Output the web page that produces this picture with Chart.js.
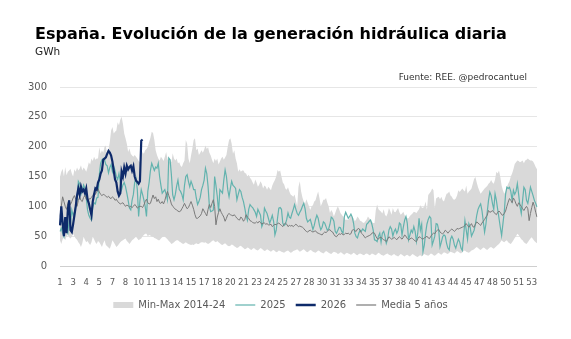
<!DOCTYPE html>
<html>
<head>
<meta charset="utf-8">
<script src="https://cdn.jsdelivr.net/npm/chart.js@4.4.1/dist/chart.umd.min.js"></script>
<style>
  body { margin: 0; background: #fff; }
  #wrap { position: relative; width: 571px; height: 339px; }
  #title { position: absolute; left: 35px; top: 24px; font: bold 16px "DejaVu Sans"; color: #000; white-space: nowrap; }
  #sub { position: absolute; left: 35px; top: 45px; font: 10.5px "DejaVu Sans"; color: #222; }
  #src { position: absolute; right: 44px; top: 72px; font: 9px "DejaVu Sans"; color: #333; }
  canvas { position: absolute; left: 0; top: 0; }
</style>
</head>
<body>
<div id="wrap">
  <canvas id="chart" width="571" height="339"></canvas>
  <div id="title">España. Evolución de la generación hidráulica diaria</div>
  <div id="sub">GWh</div>
  <div id="src">Fuente: REE. @pedrocantuel</div>
</div>
<script>
// week number for each day of the year (tick labels)
const days = Array.from({ length: 365 }, (_, i) => Math.ceil((i + 5) / 7));

const maxBand = [
  149,158,163,150,166,152,158,160,163,155, 150,162,158,165,160,163,169,160,165,162,
  158,165,174,170,180,176,183,178,180,180, 199,188,194,190,200,202,183,195,208,227,
  233,222,225,227,241,236,245,250,239,222, 214,205,191,197,188,185,183,186,183,180,
  176,174,183,191,188,194,196,200,208,215, 225,223,211,194,186,180,177,183,180,176,
  183,191,180,172,178,174,189,180,177,180, 172,174,168,166,172,177,211,205,180,172,
  185,197,211,214,194,197,186,190,194,190, 195,202,196,199,190,185,178,172,180,176,
  180,170,175,180,183,178,182,186,200,211, 214,205,188,194,180,172,158,162,158,160,
  160,156,155,150,153,148,145,140,136,145, 140,133,136,142,138,130,135,133,128,133,
  130,127,135,140,144,150,161,158,160,150, 140,137,130,128,132,125,120,118,116,120,
  110,100,133,142,125,115,108,104,112,106, 100,94,100,102,108,110,118,125,114,100,
  105,111,111,114,106,100,89,94,90,83, 89,95,100,95,89,86,83,80,77,78,
  77,80,86,82,80,75,78,83,80,76, 75,73,72,75,78,83,80,77,74,72,
  72,94,103,95,93,91,88,95,86,83, 88,97,92,86,97,91,90,94,97,90,
  86,88,91,85,82,80,80,84,86,88, 91,90,89,92,95,102,98,97,100,108,
  94,119,122,125,130,127,97,113,115,116, 112,116,110,108,115,121,122,125,118,116,
  112,111,113,118,127,124,127,130,127,125, 135,121,125,127,130,138,146,149,140,132,
  126,121,124,127,130,132,134,138,140,144, 140,138,145,158,155,160,149,135,127,121,
  125,132,138,142,150,155,162,171,174,177, 176,174,175,177,172,177,178,180,178,177,
  177,175,171,166,162
];

const minBand = [
  43,37,45,49,43,50,54,48,46,49, 54,50,46,44,40,37,32,38,49,44,
  40,42,38,35,40,49,45,40,37,42, 40,36,32,38,43,35,33,31,29,35,
  43,40,36,32,34,37,40,42,43,45, 46,42,40,37,40,43,45,47,49,46,
  43,45,46,50,52,54,54,50,52,51, 49,49,47,46,45,43,43,46,48,49,
  49,47,45,42,40,37,38,40,42,43, 43,41,40,38,37,38,40,38,37,36,
  35,36,35,37,38,37,37,39,40,40, 39,40,38,37,38,40,42,43,41,40,
  42,40,38,36,35,37,38,36,34,33, 34,36,35,33,32,30,31,33,34,32,
  30,28,29,31,30,28,27,29,30,28, 27,26,28,30,29,27,25,26,28,27,
  25,24,26,27,25,23,24,26,25,24, 23,22,24,25,26,24,22,23,25,26,
  27,28,26,24,25,27,28,26,24,23, 25,27,26,24,23,22,24,26,25,23,
  22,21,23,25,24,22,21,20,22,24, 23,22,20,21,23,22,20,19,21,22,
  21,20,19,20,22,21,19,18,20,21, 20,19,18,20,21,20,18,19,21,20,
  19,18,20,22,21,19,18,17,19,20, 21,19,18,17,19,20,18,17,16,18,
  20,19,17,16,18,19,17,16,18,20, 19,17,16,15,17,18,16,18,20,19,
  18,17,19,21,20,18,17,19,21,22, 20,19,21,23,22,21,20,22,24,23,
  22,21,23,25,24,22,21,23,25,26, 24,23,22,24,26,27,28,30,32,30,
  28,27,29,31,30,28,27,29,31,32, 30,29,31,33,35,37,40,43,41,40,
  42,43,40,38,37,40,43,47,50,54, 52,48,45,43,40,38,37,40,43,46,
  48,45,42,40,38
];

const gen2025 = [
  58,63,55,49,70,62,55,77,70,94, 85,90,100,111,142,138,120,128,136,130,
  115,94,85,80,77,98,106,104,114,115, 153,172,178,180,178,170,168,156,165,170,
  158,167,160,150,145,155,141,128,136,140, 133,122,110,97,94,110,120,140,147,128,
  83,110,128,120,111,100,83,125,140,160, 172,166,160,166,164,172,150,135,122,125,
  128,120,111,181,178,153,119,111,120,134, 144,128,125,120,111,135,150,153,142,133,
  142,136,128,128,114,103,108,115,128,135, 144,164,155,133,100,91,92,94,150,135,
  117,91,128,125,122,144,161,150,128,116, 130,142,135,133,130,111,120,128,125,115,
  108,97,85,77,95,103,100,98,94,90, 83,95,90,85,66,72,97,92,88,80,
  72,78,85,75,52,60,80,97,98,95, 72,68,70,78,89,82,80,88,95,103,
  95,88,85,90,94,100,105,96,80,74, 76,78,70,61,68,78,85,80,68,61,
  65,74,72,66,60,62,70,82,80,75, 58,55,60,65,64,58,55,83,90,85,
  80,83,87,82,72,55,49,47,55,60, 58,62,60,58,70,72,75,77,70,60,
  44,43,41,50,55,40,55,58,50,38, 45,60,66,62,50,58,62,55,60,72,
  70,52,65,77,83,72,44,52,60,56, 66,58,41,55,80,60,70,24,35,55,
  70,78,83,80,35,42,50,71,70,60, 32,40,49,52,50,38,30,27,45,50,
  45,35,30,38,45,40,30,26,50,76, 60,45,71,65,50,55,60,70,85,95,
  100,104,93,75,57,70,90,110,124,118, 105,95,121,110,95,80,65,51,71,90,
  120,132,130,132,125,110,127,120,125,138, 120,100,88,110,132,128,110,105,118,132,
  125,118,110,105,99
];

const gen2026 = [
  68,100,72,50,82,55,95,110,60,57, 70,85,100,118,130,120,133,125,128,122,
  130,112,105,95,85,108,120,130,128,140, 145,155,160,178,180,182,188,193,190,185,
  175,160,145,140,125,118,122,158,150,165, 155,168,162,166,168,160,167,150,143,141,
  138,142,210,212
];

const media5 = [
  83,100,116,108,100,95,105,110,103,108, 114,118,112,100,110,116,110,108,115,118,
  112,110,113,112,115,118,122,120,125,130, 124,120,118,120,119,117,115,117,114,113,
  116,114,110,112,108,106,104,105,106,103, 100,102,101,99,100,98,100,103,101,97,
  99,100,100,98,102,108,112,106,104,105, 112,119,113,116,108,112,106,105,108,104,
  110,118,125,118,112,104,100,98,95,94, 92,91,92,96,100,105,100,96,98,103,
  108,102,95,86,80,80,82,84,88,96, 92,88,84,95,103,98,105,111,100,69,
  82,90,96,90,86,82,75,80,86,88, 86,85,84,86,83,80,78,77,82,80,
  75,78,86,82,80,76,75,73,72,72, 74,72,75,73,70,72,72,70,71,69,
  69,70,66,68,70,69,71,72,70,68, 66,70,72,70,66,68,67,68,66,68,
  70,68,66,67,66,65,63,60,58,57, 59,60,58,57,58,59,56,55,54,53,
  52,55,57,56,58,60,61,58,57,53, 50,49,52,54,53,55,52,53,55,54,
  55,53,54,60,61,59,58,62,63,60, 55,53,50,47,49,50,51,52,55,56,
  55,50,46,45,48,48,46,44,43,41, 45,49,47,45,46,48,46,44,47,49,
  47,45,48,52,50,46,44,45,47,46, 44,42,41,46,49,48,46,45,47,48,
  50,47,46,50,53,55,54,58,60,61, 57,55,54,56,60,58,55,58,60,62,
  60,58,60,63,62,63,64,65,66,68, 71,68,65,68,71,66,65,70,74,72,
  70,68,72,75,78,82,85,93,90,91, 93,90,88,86,90,92,90,86,85,88,
  92,100,107,113,110,106,114,110,104,100, 106,103,100,96,93,97,100,96,76,88,
  98,107,100,90,82
];

const tickColor = '#595959';
const baseFont = 'DejaVu Sans';

new Chart(document.getElementById('chart'), {
  type: 'line',
  data: {
    labels: days,
    datasets: [
      { label: 'Min-Max 2014-24', data: maxBand, fill: '+1', backgroundColor: '#d9d9d9',
        borderColor: '#d9d9d9', borderWidth: 0, pointRadius: 0, order: 4,
        legendStyle: 'rect', legendWidth: 0 },
      { label: 'min', data: minBand, fill: false, borderWidth: 0, borderColor: '#d9d9d9',
        pointRadius: 0, order: 5 },
      { label: '2025', data: gen2025, borderColor: '#62b3ae', borderWidth: 1.2,
        pointRadius: 0, fill: false, order: 2, legendStyle: 'line', legendWidth: 1.2 },
      { label: '2026', data: gen2026, borderColor: '#0e2a6a', borderWidth: 2.2,
        pointRadius: 0, fill: false, order: 0, legendStyle: 'line', legendWidth: 2.5 },
      { label: 'Media 5 años', data: media5, borderColor: '#7a7a7a', borderWidth: 1,
        pointRadius: 0, fill: false, order: 1, legendStyle: 'line', legendWidth: 1.2 }
    ]
  },
  options: {
    responsive: false,
    animation: false,
    events: [],
    layout: { padding: { top: 87, left: 24, right: 34, bottom: 19 } },
    elements: { line: { tension: 0 } },
    scales: {
      x: {
        grid: { display: false },
        border: { display: false },
        ticks: {
          autoSkip: false,
          maxRotation: 0,
          padding: 4,
          color: tickColor,
          font: { family: baseFont, size: 8.5 },
          callback: function (value, index) {
            return index % 10 === 0 ? this.getLabelForValue(value) : null;
          }
        },
        afterFit: (s) => { s.height = 24; }
      },
      y: {
        min: 0, max: 300,
        border: { display: false },
        grid: {
          drawTicks: false,
          color: (c) => c.tick.value === 0 ? '#cfcfcf' : '#e6e6e6',
          lineWidth: 1
        },
        ticks: {
          stepSize: 50,
          padding: 13,
          color: tickColor,
          font: { family: baseFont, size: 10 }
        },
        afterFit: (s) => { s.width = 36; }
      }
    },
    plugins: {
      tooltip: { enabled: false },
      legend: {
        position: 'bottom',
        labels: {
          usePointStyle: true,
          pointStyleWidth: 20,
          boxHeight: 6,
          padding: 10,
          color: tickColor,
          font: { family: baseFont, size: 10 },
          generateLabels: (chart) => chart.data.datasets
            .map((ds, i) => ({
              text: ds.label,
              datasetIndex: i,
              fillStyle: ds.backgroundColor || ds.borderColor,
              strokeStyle: ds.borderColor,
              lineWidth: ds.legendWidth,
              pointStyle: ds.legendStyle,
              fontColor: tickColor,
              hidden: false
            }))
            .filter((item) => item.datasetIndex !== 1)
        }
      }
    }
  }
});
</script>
</body>
</html>
